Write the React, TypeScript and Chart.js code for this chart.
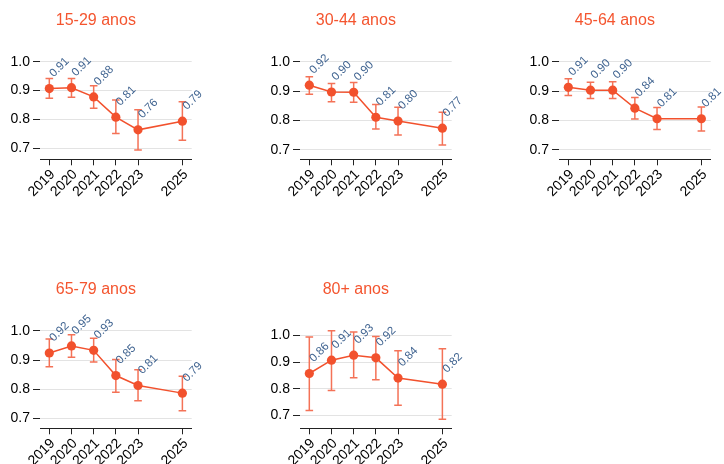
import React, { useEffect, useRef } from 'react';
import { Chart, registerables } from 'chart.js';

Chart.register(...registerables);

// ---------- data ----------
const years = [2019, 2020, 2021, 2022, 2023, 2025];
const yTickValues = [0.7, 0.8, 0.9, 1.0];
const panelTitles = ['15-29 anos', '30-44 anos', '45-64 anos', '65-79 anos', '80+ anos'];

const est1529 = [0.907, 0.91, 0.878, 0.808, 0.764, 0.794];
const lo1529 = [0.873, 0.877, 0.839, 0.751, 0.694, 0.728];
const hi1529 = [0.942, 0.942, 0.917, 0.867, 0.834, 0.861];

const est3044 = [0.92, 0.897, 0.896, 0.811, 0.798, 0.774];
const lo3044 = [0.889, 0.864, 0.862, 0.771, 0.751, 0.717];
const hi3044 = [0.949, 0.926, 0.929, 0.854, 0.845, 0.828];

const est4564 = [0.913, 0.903, 0.903, 0.842, 0.806, 0.806];
const lo4564 = [0.885, 0.875, 0.875, 0.805, 0.769, 0.764];
const hi4564 = [0.942, 0.93, 0.932, 0.878, 0.844, 0.846];

const est6579 = [0.924, 0.948, 0.933, 0.847, 0.813, 0.787];
const lo6579 = [0.877, 0.909, 0.893, 0.79, 0.761, 0.727];
const hi6579 = [0.972, 0.986, 0.974, 0.902, 0.867, 0.845];

const est80 = [0.857, 0.907, 0.926, 0.916, 0.84, 0.817];
const lo80 = [0.718, 0.793, 0.841, 0.834, 0.738, 0.685];
const hi80 = [0.994, 1.018, 1.013, 0.996, 0.943, 0.95];

const yMins = [0.662, 0.668, 0.668, 0.667, 0.651];
const yMaxs = [1.0, 1.0, 1.0, 1.0, 1.018];

const estimates = [est1529, est3044, est4564, est6579, est80];
const lowers = [lo1529, lo3044, lo4564, lo6579, lo80];
const uppers = [hi1529, hi3044, hi4564, hi6579, hi80];

// ---------- style / layout ----------
const FONT = "'Liberation Sans', Arial, Helvetica, sans-serif";
const LINE = '#f2512d';
const ERR = '#f47257';
const TITLE = '#f4552f';
const LABEL = '#3f6390';
const INK = '#000000';
const GRID = '#e3e3e3';

const CANVAS_W = 210;
const CANVAS_H = 210;
const colLeft = [0, 260, 519];
const rowTop = [0, 269];
const AREA_RIGHT = 191.7;
const AREA_BOTTOM = 159.3;
const XAXIS_H = 40;

function Panel({ idx }: { idx: number }) {
  const ref = useRef<HTMLCanvasElement | null>(null);

  useEffect(() => {
    const canvas = ref.current;
    if (!canvas) return;
    const est = estimates[idx];
    const lo = lowers[idx];
    const hi = uppers[idx];

    const errorBars = {
      id: 'errorBars',
      beforeDatasetsDraw(chart: any) {
        const { ctx, scales } = chart;
        const xs = scales.x;
        const ys = scales.y;
        ctx.save();
        ctx.strokeStyle = ERR;
        ctx.lineWidth = 1.5;
        years.forEach((yr, i) => {
          const px = xs.getPixelForValue(yr);
          const pTop = ys.getPixelForValue(hi[i]);
          const pBot = ys.getPixelForValue(lo[i]);
          ctx.beginPath();
          ctx.moveTo(px, pTop);
          ctx.lineTo(px, pBot);
          ctx.moveTo(px - 3.8, pTop);
          ctx.lineTo(px + 3.8, pTop);
          ctx.moveTo(px - 3.8, pBot);
          ctx.lineTo(px + 3.8, pBot);
          ctx.stroke();
        });
        ctx.restore();
      },
    };

    const valueLabels = {
      id: 'valueLabels',
      afterDatasetsDraw(chart: any) {
        const { ctx } = chart;
        const meta = chart.getDatasetMeta(0);
        ctx.save();
        ctx.fillStyle = LABEL;
        ctx.font = `11.5px ${FONT}`;
        ctx.textAlign = 'left';
        ctx.textBaseline = 'alphabetic';
        meta.data.forEach((pt: any, i: number) => {
          ctx.save();
          ctx.translate(pt.x + 4.5, pt.y - 11);
          ctx.rotate(-Math.PI / 4);
          ctx.fillText(est[i].toFixed(2), 0, 0);
          ctx.restore();
        });
        ctx.restore();
      },
    };

    const chart = new Chart(canvas, {
      type: 'line',
      data: {
        datasets: [
          {
            data: years.map((yr, i) => ({ x: yr, y: est[i] })),
            borderColor: LINE,
            borderWidth: 1.5,
            pointRadius: 4.6,
            pointHoverRadius: 4.6,
            pointBackgroundColor: LINE,
            pointBorderWidth: 0,
            tension: 0,
            clip: false as any,
          },
        ],
      },
      options: {
        responsive: false,
        animation: false,
        events: [],
        layout: {
          padding: {
            left: 0,
            top: 0,
            right: CANVAS_W - AREA_RIGHT,
            bottom: CANVAS_H - AREA_BOTTOM - XAXIS_H,
          },
        },
        plugins: {
          legend: { display: false },
          tooltip: { enabled: false },
          title: {
            display: true,
            text: panelTitles[idx],
            color: TITLE,
            font: { family: FONT, size: 16, weight: 'normal', lineHeight: 1.2 },
            padding: { top: 11, bottom: 31.5 },
          },
        },
        scales: {
          x: {
            type: 'linear',
            min: 2018.58,
            max: 2025.42,
            afterBuildTicks: (s: any) => {
              s.ticks = years.map((v) => ({ value: v }));
            },
            afterFit: (s: any) => {
              s.height = XAXIS_H;
            },
            grid: {
              display: true,
              drawOnChartArea: false,
              drawTicks: true,
              tickLength: 6,
              tickColor: '#222222',
            },
            border: { display: true, color: '#222222', width: 1 },
            ticks: {
              autoSkip: false,
              minRotation: 45,
              maxRotation: 45,
              padding: 1,
              labelOffset: 3.5,
              color: INK,
              font: { family: FONT, size: 14 },
              callback: (v: any) => String(v),
            },
          },
          y: {
            type: 'linear',
            min: yMins[idx],
            max: yMaxs[idx],
            afterBuildTicks: (s: any) => {
              s.ticks = yTickValues.map((v) => ({ value: v }));
            },
            afterFit: (s: any) => {
              s.width = 40;
            },
            grid: {
              color: GRID,
              lineWidth: 1,
              drawTicks: true,
              tickLength: 7,
              tickColor: '#222222',
            },
            border: { display: false },
            ticks: {
              padding: 3,
              color: INK,
              font: { family: FONT, size: 14 },
              callback: (v: any) => Number(v).toFixed(1),
            },
          },
        },
      } as any,
      plugins: [errorBars, valueLabels],
    });

    return () => {
      chart.destroy();
    };
  }, [idx]);

  const col = idx % 3;
  const row = Math.floor(idx / 3);
  return (
    <canvas
      ref={ref}
      width={CANVAS_W}
      height={CANVAS_H}
      style={{
        position: 'absolute',
        left: colLeft[col],
        top: rowTop[row],
        width: CANVAS_W,
        height: CANVAS_H,
        display: 'block',
      }}
    />
  );
}

export default function App() {
  return (
    <div
      style={{
        position: 'absolute',
        left: 0,
        top: 0,
        width: 724,
        height: 464,
        background: '#ffffff',
        overflow: 'hidden',
      }}
    >
      {panelTitles.map((_, i) => (
        <Panel key={i} idx={i} />
      ))}
    </div>
  );
}
